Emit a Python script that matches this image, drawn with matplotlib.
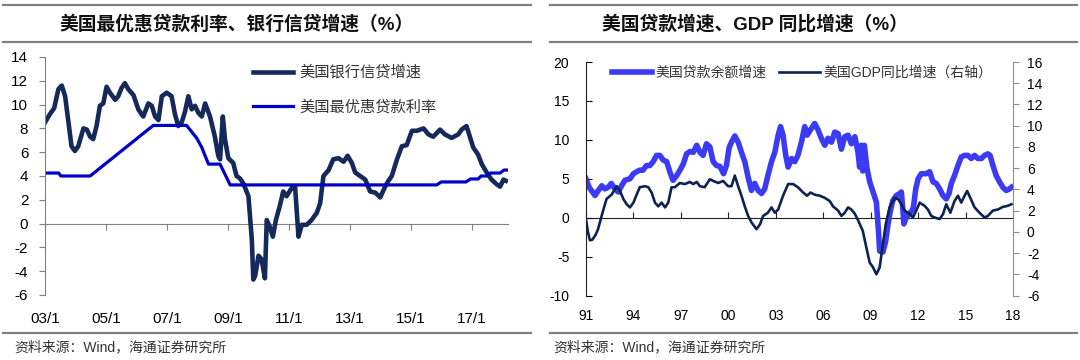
import matplotlib.pyplot as plt
from matplotlib.lines import Line2D

plt.rcParams['font.family'] = ['Liberation Sans', 'Noto Sans CJK SC']
plt.rcParams['axes.unicode_minus'] = False

# ---- left panel: bank credit growth & prime rate ----
credit_t = [2003.0, 2003.16, 2003.3, 2003.44, 2003.55, 2003.66, 2003.77, 2003.87, 2003.98, 2004.09,
            2004.26, 2004.37, 2004.48, 2004.58, 2004.69, 2004.8, 2004.91, 2005.02, 2005.13, 2005.3,
            2005.4, 2005.51, 2005.62, 2005.73, 2005.9, 2006.06, 2006.22, 2006.39, 2006.5, 2006.61,
            2006.72, 2006.83, 2006.99, 2007.15, 2007.26, 2007.37, 2007.48, 2007.59, 2007.7, 2007.81,
            2007.92, 2008.03, 2008.14, 2008.25, 2008.41, 2008.57, 2008.68, 2008.74, 2008.83, 2008.9,
            2009.01, 2009.17, 2009.28, 2009.39, 2009.5, 2009.67, 2009.78, 2009.83, 2009.89, 2010.0,
            2010.1, 2010.21, 2010.27, 2010.36, 2010.47, 2010.57, 2010.7, 2010.81, 2010.92, 2011.09,
            2011.2, 2011.31, 2011.42, 2011.58, 2011.74, 2011.91, 2012.02, 2012.13, 2012.3, 2012.45,
            2012.62, 2012.79, 2012.92, 2013.06, 2013.17, 2013.33, 2013.5, 2013.66, 2013.83, 2013.99,
            2014.15, 2014.26, 2014.37, 2014.54, 2014.7, 2014.86, 2015.03, 2015.19, 2015.41, 2015.57,
            2015.73, 2015.95, 2016.11, 2016.33, 2016.55, 2016.66, 2016.82, 2016.93, 2017.04, 2017.2,
            2017.32, 2017.48, 2017.64, 2017.81, 2017.92, 2018.03, 2018.11]
credit_v = [8.5, 9.2, 9.7, 11.3, 11.6, 10.7, 8.5, 6.5, 6.1, 6.5,
            8.0, 7.9, 7.3, 7.1, 8.2, 9.9, 10.1, 11.5, 11.0, 10.4,
            10.7, 11.4, 11.8, 11.3, 10.8, 9.6, 9.0, 10.1, 9.9, 9.0,
            8.7, 10.7, 11.0, 10.7, 9.2, 8.2, 8.5, 9.4, 10.7, 9.6,
            9.9, 9.3, 9.0, 10.1, 9.0, 7.3, 5.7, 5.4, 9.0, 7.1,
            5.5, 5.1, 4.0, 3.8, 3.4, 2.3, -1.3, -4.7, -4.4, -2.7,
            -3.0, -4.6, 0.3, -0.2, -1.1, 0.3, 1.5, 2.7, 2.3, 3.0,
            3.1, -1.1, -0.1, -0.1, 0.3, 0.9, 1.7, 4.0, 4.5, 5.4,
            5.5, 5.2, 5.7, 5.1, 4.3, 4.0, 3.7, 2.7, 2.6, 2.2,
            3.1, 3.6, 4.0, 5.4, 6.5, 6.6, 7.8, 7.8, 8.0, 7.5,
            7.3, 7.9, 7.5, 7.2, 7.5, 7.9, 8.2, 7.3, 6.4, 5.8,
            5.0, 4.3, 3.7, 3.3, 3.1, 3.7, 3.6]

prime_t = [2003.0, 2003.45, 2003.52, 2004.48, 2006.55, 2007.64, 2007.97, 2008.14, 2008.36, 2008.74,
           2009.07, 2015.84, 2015.99, 2016.8, 2016.95, 2017.2, 2017.3, 2017.48, 2017.6, 2017.92,
           2018.05, 2018.2]
prime_v = [4.25, 4.25, 4.0, 4.0, 8.25, 8.25, 7.2, 6.4, 5.0, 5.0,
           3.25, 3.25, 3.5, 3.5, 3.75, 3.75, 4.0, 4.0, 4.25, 4.25,
           4.5, 4.5]

left_ticks = [2003, 2005, 2007, 2009, 2011, 2013, 2015, 2017]
left_labels = ['03/1', '05/1', '07/1', '09/1', '11/1', '13/1', '15/1', '17/1']

# ---- right panel: loan growth & GDP yoy ----
loan_t = [1991.0, 1991.2, 1991.57, 1991.78, 1992.0, 1992.2, 1992.4, 1992.6, 1992.83, 1993.04,
          1993.25, 1993.46, 1993.78, 1994.0, 1994.2, 1994.4, 1994.6, 1994.83, 1995.04, 1995.25,
          1995.46, 1995.67, 1995.88, 1996.1, 1996.3, 1996.5, 1996.73, 1996.94, 1997.15, 1997.36,
          1997.57, 1997.78, 1998.0, 1998.2, 1998.4, 1998.62, 1998.83, 1999.04, 1999.25, 1999.46,
          1999.7, 1999.88, 2000.05, 2000.2, 2000.41, 2000.62, 2000.83, 2001.04, 2001.25, 2001.46,
          2001.67, 2001.88, 2002.1, 2002.3, 2002.5, 2002.73, 2002.94, 2003.15, 2003.3, 2003.46,
          2003.63, 2003.78, 2004.0, 2004.2, 2004.4, 2004.62, 2004.83, 2004.98, 2005.2, 2005.46,
          2005.67, 2005.88, 2006.1, 2006.3, 2006.52, 2006.73, 2006.94, 2007.15, 2007.36, 2007.57,
          2007.78, 2008.0, 2008.2, 2008.3, 2008.41, 2008.5, 2008.6, 2008.77, 2008.94, 2009.15,
          2009.36, 2009.5, 2009.57, 2009.78, 2009.95, 2010.1, 2010.25, 2010.4, 2010.62, 2010.83,
          2010.94, 2011.04, 2011.1, 2011.25, 2011.46, 2011.67, 2011.72, 2011.85, 2012.0, 2012.2,
          2012.52, 2012.73, 2012.94, 2013.15, 2013.36, 2013.57, 2013.78, 2013.95, 2014.1, 2014.3,
          2014.52, 2014.73, 2014.94, 2015.15, 2015.36, 2015.57, 2015.78, 2016.0, 2016.2, 2016.41,
          2016.55, 2016.73, 2016.94, 2017.15, 2017.36, 2017.57, 2017.78, 2017.9]
loan_v = [5.0, 3.9, 2.85, 3.5, 4.1, 3.7, 3.9, 4.4, 3.7, 3.3,
          4.1, 4.8, 5.0, 5.65, 5.9, 6.1, 6.1, 6.7, 6.7, 7.2,
          8.0, 8.0, 7.4, 7.2, 5.9, 4.8, 5.4, 6.1, 6.9, 8.2,
          8.5, 8.4, 9.3, 8.4, 8.0, 9.5, 9.1, 7.2, 6.7, 6.6,
          5.65, 6.7, 9.0, 9.7, 10.5, 9.7, 8.4, 7.2, 5.2, 3.5,
          4.4, 3.5, 3.1, 3.7, 5.4, 7.2, 8.4, 10.6, 11.7, 10.6,
          8.0, 6.5, 7.6, 7.2, 8.0, 9.7, 11.7, 10.6, 11.3, 12.1,
          11.3, 10.2, 9.3, 10.2, 9.7, 11.0, 10.8, 8.8, 10.4, 10.6,
          9.5, 10.4, 8.4, 6.5, 9.3, 6.0, 9.3, 6.3, 4.6, 3.3,
          2.0, -1.9, -4.3, -4.4, -3.0, -0.8, 0.9, 2.2, 2.85, 3.1,
          3.3, 0.9, -0.8, 0.04, 0.5, 1.1, 1.6, 3.7, 5.0, 5.65,
          5.65, 5.9, 4.6, 4.4, 3.7, 2.85, 2.4, 3.1, 4.4, 5.4,
          6.7, 7.8, 8.0, 8.0, 7.6, 8.0, 7.6, 7.6, 8.0, 8.2,
          8.0, 6.7, 5.4, 4.6, 3.9, 3.5, 3.7, 3.9]

gdp_t = [1991.0, 1991.12, 1991.25, 1991.4, 1991.6, 1991.75, 1991.88, 1992.1, 1992.3, 1992.62,
         1992.94, 1993.15, 1993.36, 1993.57, 1993.78, 1994.0, 1994.2, 1994.4, 1994.73, 1994.94,
         1995.15, 1995.36, 1995.57, 1995.78, 1996.0, 1996.2, 1996.41, 1996.62, 1996.94, 1997.25,
         1997.57, 1997.78, 1998.0, 1998.2, 1998.5, 1998.83, 1999.04, 1999.36, 1999.67, 1999.98,
         2000.2, 2000.41, 2000.62, 2000.83, 2001.04, 2001.25, 2001.46, 2001.78, 2002.0, 2002.2,
         2002.5, 2002.73, 2002.94, 2003.15, 2003.46, 2003.78, 2004.1, 2004.4, 2004.73, 2004.98,
         2005.2, 2005.46, 2005.78, 2006.1, 2006.41, 2006.62, 2006.94, 2007.15, 2007.36, 2007.57,
         2007.78, 2008.0, 2008.2, 2008.5, 2008.73, 2008.94, 2009.15, 2009.36, 2009.57, 2009.74,
         2009.95, 2010.2, 2010.52, 2010.73, 2010.94, 2011.15, 2011.46, 2011.67, 2011.88, 2012.1,
         2012.41, 2012.62, 2012.83, 2013.04, 2013.36, 2013.57, 2013.78, 2014.04, 2014.3, 2014.52,
         2014.73, 2014.94, 2015.1, 2015.3, 2015.57, 2015.88, 2016.2, 2016.41, 2016.73, 2017.04,
         2017.36, 2017.67, 2017.9]
gdp_v = [1.2, 0.0, -0.8, -0.75, -0.3, 0.2, 0.9, 2.1, 3.1, 3.5,
         4.3, 3.85, 3.1, 2.6, 2.3, 2.75, 3.5, 4.2, 4.3, 4.2,
         3.7, 2.75, 2.4, 2.75, 2.3, 2.75, 4.2, 4.2, 4.6, 4.5,
         4.7, 4.5, 4.7, 4.3, 4.2, 4.95, 4.8, 4.6, 4.8, 4.3,
         4.3, 5.3, 4.3, 3.4, 2.4, 1.5, 0.9, 0.25, 0.7, 1.5,
         1.8, 2.3, 1.8, 2.1, 3.4, 4.5, 4.5, 4.2, 3.7, 3.4,
         3.7, 3.5, 3.4, 3.2, 2.9, 2.4, 2.0, 1.5, 1.8, 2.3,
         2.1, 1.7, 1.1, 0.1, -1.5, -2.9, -3.35, -4.0, -3.35, -1.5,
         0.7, 2.3, 3.2, 3.1, 2.6, 2.0, 1.7, 1.35, 2.0, 2.75,
         2.45, 2.1, 1.5, 1.35, 1.2, 1.65, 2.6, 1.8, 2.9, 3.4,
         2.75, 3.4, 3.85, 3.2, 2.3, 1.8, 1.35, 1.5, 2.0, 2.1,
         2.35, 2.45, 2.6]

right_ticks = [1991, 1994, 1997, 2000, 2003, 2006, 2009, 2012, 2015, 2018]
right_labels = ['91', '94', '97', '00', '03', '06', '09', '12', '15', '18']

W, H = 1080, 360
fig = plt.figure(figsize=(W / 100, H / 100), dpi=100)


def box(x0, y0, x1, y1):
    # pixel box -> figure fraction rect
    return [x0 / W, 1 - y1 / H, (x1 - x0) / W, (y1 - y0) / H]


# frame rules above/below each panel
for x0, x1 in [(3, 531), (550, 1077)]:
    for y in [5, 42, 333]:
        fig.add_artist(Line2D([x0 / W, x1 / W], [1 - y / H] * 2, color='#808080', lw=1.6))

fig.text(59 / W, 1 - 24 / H, '美国最优惠贷款利率、银行信贷增速（%）', fontsize=13.5,
         fontweight='bold', va='center', color='#111111')
fig.text(602 / W, 1 - 24 / H, '美国贷款增速、GDP 同比增速（%）', fontsize=13.5,
         fontweight='bold', va='center', color='#111111')
fig.text(14 / W, 1 - 347 / H, '资料来源：Wind，海通证券研究所', fontsize=10, va='center', color='#333333')
fig.text(553 / W, 1 - 347 / H, '资料来源：Wind，海通证券研究所', fontsize=10, va='center', color='#333333')

# ---- left chart ----
ax1 = fig.add_axes(box(45, 57, 508, 295))
ax1.plot(credit_t, credit_v, color='#15295A', lw=3.3, solid_joinstyle='round', label='美国银行信贷增速')
ax1.plot(prime_t, prime_v, color='#0000C8', lw=2.3, label='美国最优惠贷款利率')
ax1.set_xlim(2003, 2018.18)
ax1.set_ylim(-6, 14)
ax1.set_yticks(range(-6, 15, 2))
ax1.set_xticks(left_ticks)
ax1.set_xticklabels(left_labels)
for s in ['top', 'right', 'bottom']:
    ax1.spines[s].set_visible(False)
ax1.spines['left'].set_color('#808080')
ax1.tick_params(axis='y', direction='out', length=4, color='#808080', pad=8, labelsize=11)
ax1.tick_params(axis='x', length=0, pad=12, labelsize=11)
sec1 = ax1.secondary_xaxis(0.3)
sec1.set_xticks(left_ticks)
sec1.set_xticklabels([])
sec1.tick_params(direction='out', length=4, color='#808080')
sec1.spines['bottom'].set_color('#808080')
ax1.legend(loc='upper left', bbox_to_anchor=(0.449, 0.965), frameon=False, borderpad=0,
           borderaxespad=0, handlelength=2.6, handletextpad=0.45, labelspacing=1.3,
           prop={'size': 11}, labelcolor='#333333')

# ---- right chart ----
ax2 = fig.add_axes(box(586, 62, 1013, 295.5))
ax3 = ax2.twinx()
l1, = ax2.plot(loan_t, loan_v, color='#3B3BF5', lw=4.0, solid_joinstyle='round', label='美国贷款余额增速')
l2, = ax3.plot(gdp_t, gdp_v, color='#0E2352', lw=1.9, label='美国GDP同比增速（右轴）')
ax2.set_xlim(1991, 2018)
ax2.set_ylim(-10, 20)
ax2.set_yticks(range(-10, 21, 5))
ax3.set_ylim(-6, 16)
ax3.set_yticks(range(-6, 17, 2))
ax2.set_xticks(right_ticks)
ax2.set_xticklabels(right_labels)
for s in ['top', 'right', 'bottom']:
    ax2.spines[s].set_visible(False)
for s in ['top', 'left', 'bottom']:
    ax3.spines[s].set_visible(False)
ax2.spines['left'].set_color('#222222')
ax3.spines['right'].set_color('#909090')
ax2.tick_params(axis='y', direction='in', length=4, pad=12, labelsize=10)
ax2.tick_params(axis='x', length=0, pad=10, labelsize=10)
ax3.tick_params(axis='y', direction='out', length=4, color='#909090', pad=6, labelsize=10)
sec2 = ax2.secondary_xaxis(1 / 3)
sec2.set_xticks(right_ticks)
sec2.set_xticklabels([])
sec2.tick_params(direction='in', length=4, color='#222222')
sec2.spines['bottom'].set_color('#222222')
ax3.legend(handles=[l1, l2], loc='upper left', bbox_to_anchor=(0.061, 0.985), ncol=2,
           frameon=False, borderpad=0, borderaxespad=0, handlelength=2.9, handletextpad=0.25,
           columnspacing=0.9, prop={'size': 10}, labelcolor='#333333')

fig.savefig('out.png', dpi=100)
